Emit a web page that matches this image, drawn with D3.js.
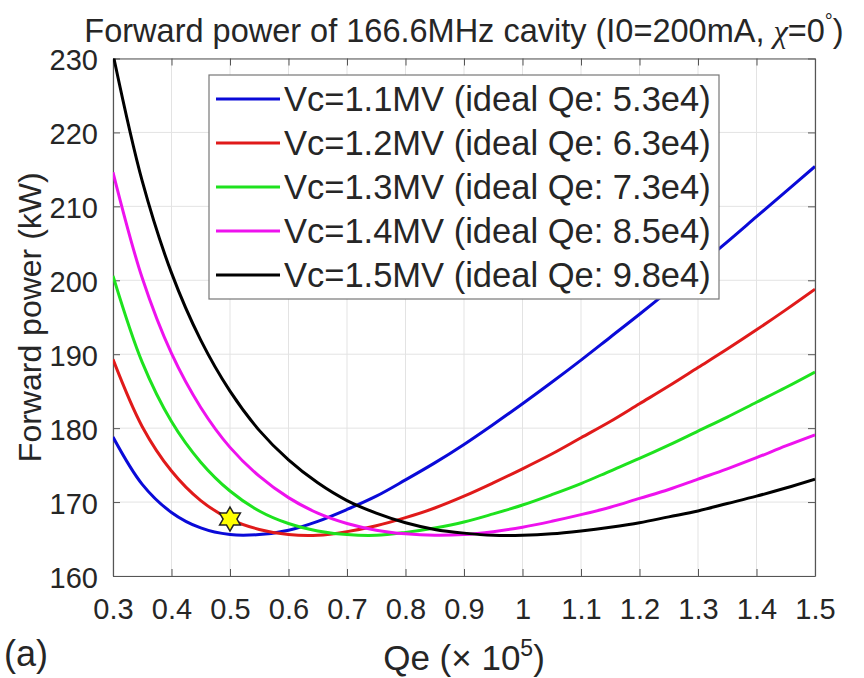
<!DOCTYPE html>
<html>
<head>
<meta charset="utf-8">
<script src="https://cdn.jsdelivr.net/npm/d3@7"></script>
<style>
  body { margin: 0; background: #fff; }
  svg text { font-family: "Liberation Sans", Arial, sans-serif; fill: #262626; }
</style>
</head>
<body>
<div id="vis"></div>
<script>
var qe = [0.30, 0.35, 0.40, 0.45, 0.50, 0.55, 0.60, 0.65, 0.70, 0.75, 0.80, 0.85, 0.90,
          0.95, 1.00, 1.05, 1.10, 1.15, 1.20, 1.25, 1.30, 1.35, 1.40, 1.45, 1.50];

// forward power (kW) for each cavity voltage
var p11 = [178.8, 172.4, 168.6, 166.5, 165.6, 165.6, 166.2, 167.4, 169.0, 170.8, 173.0, 175.3, 177.8,
           180.5, 183.3, 186.2, 189.2, 192.3, 195.4, 198.6, 201.9, 205.2, 208.6, 212.0, 215.4];
var p12 = [189.3, 180.2, 174.2, 170.2, 167.7, 166.3, 165.6, 165.5, 166.0, 166.8, 167.9, 169.2, 170.8,
           172.6, 174.5, 176.5, 178.7, 180.9, 183.3, 185.7, 188.2, 190.7, 193.3, 196.0, 198.8];
var p13 = [200.6, 188.9, 180.9, 175.4, 171.5, 168.8, 167.1, 166.1, 165.6, 165.5, 165.9, 166.5, 167.3,
           168.4, 169.6, 171.0, 172.5, 174.2, 175.9, 177.7, 179.6, 181.5, 183.5, 185.5, 187.6];
var p14 = [214.6, 200.3, 190.1, 182.8, 177.4, 173.5, 170.6, 168.5, 167.1, 166.2, 165.7, 165.5, 165.6,
           166.0, 166.6, 167.4, 168.3, 169.3, 170.5, 171.7, 173.1, 174.5, 176.0, 177.6, 179.1];
var p15 = [230.6, 213.4, 201.0, 191.9, 185.0, 179.7, 175.7, 172.6, 170.2, 168.5, 167.2, 166.3, 165.8,
           165.5, 165.5, 165.7, 166.1, 166.6, 167.2, 168.0, 168.8, 169.8, 170.8, 171.9, 173.1];

var seriesNames = ["Vc=1.1MV (ideal Qe: 5.3e4)", "Vc=1.2MV (ideal Qe: 6.3e4)", "Vc=1.3MV (ideal Qe: 7.3e4)",
                   "Vc=1.4MV (ideal Qe: 8.5e4)", "Vc=1.5MV (ideal Qe: 9.8e4)"];
var seriesColors = ["#0a0ad8", "#e01a1a", "#1ee21e", "#ee12ee", "#000000"];
var seriesValues = [p11, p12, p13, p14, p15];

// the yellow star marker
var starPoint = {x: 0.5, y: 167.7};

var xTicks = [0.3, 0.4, 0.5, 0.6, 0.7, 0.8, 0.9, 1, 1.1, 1.2, 1.3, 1.4, 1.5];
var yTicks = [160, 170, 180, 190, 200, 210, 220, 230];

var W = 864, H = 678;
var margin = {top: 58.5, right: 49, bottom: 102, left: 113};
var width = W - margin.left - margin.right,
    height = H - margin.top - margin.bottom;
var cx = margin.left + width / 2; // centre of the plot box

var svg = d3.select("#vis").append("svg")
  .attr("width", W)
  .attr("height", H);

var g = svg.append("g")
  .attr("transform", "translate(" + margin.left + "," + margin.top + ")");

var x = d3.scaleLinear().domain([0.3, 1.5]).range([0, width]);
var y = d3.scaleLinear().domain([160, 230]).range([height, 0]);

// grid
g.append("g").selectAll("line").data(xTicks).join("line")
  .attr("x1", d => x(d)).attr("x2", d => x(d))
  .attr("y1", 0).attr("y2", height)
  .style("stroke", "#e3e3e3").style("stroke-width", 1);
g.append("g").selectAll("line").data(yTicks).join("line")
  .attr("x1", 0).attr("x2", width)
  .attr("y1", d => y(d)).attr("y2", d => y(d))
  .style("stroke", "#e3e3e3").style("stroke-width", 1);

// axes, ticks inside like matlab
var fmt = d3.format("");
var xAxis = g.append("g")
  .attr("transform", "translate(0," + height + ")")
  .call(d3.axisBottom(x).tickValues(xTicks).tickSizeInner(-7).tickSizeOuter(0).tickPadding(22).tickFormat(fmt));
var xTop = g.append("g")
  .call(d3.axisTop(x).tickValues(xTicks).tickSizeInner(-7).tickSizeOuter(0).tickFormat(""));
var yAxis = g.append("g")
  .call(d3.axisLeft(y).tickValues(yTicks).tickSizeInner(-7).tickSizeOuter(0).tickPadding(15));
var yRight = g.append("g")
  .attr("transform", "translate(" + width + ",0)")
  .call(d3.axisRight(y).tickValues(yTicks).tickSizeInner(-7).tickSizeOuter(0).tickFormat(""));

[xAxis, xTop, yAxis, yRight].forEach(function(a) {
  a.select(".domain").style("stroke", "#555").style("stroke-width", 1.2);
  a.selectAll(".tick line").style("stroke", "#555");
  a.selectAll("text").style("font-size", "29px").style("fill", "#262626")
    .style("font-family", "'Liberation Sans', Arial, sans-serif");
});
yAxis.selectAll("text").attr("dy", "0.38em");

// curves
svg.append("clipPath").attr("id", "clip")
  .append("rect").attr("width", width).attr("height", height);

var line = d3.line()
  .x(function(d, i) { return x(qe[i]); })
  .y(function(d) { return y(d); })
  .curve(d3.curveCatmullRom);

var plot = g.append("g").attr("clip-path", "url(#clip)");
seriesValues.forEach(function(vals, k) {
  plot.append("path")
    .datum(vals)
    .attr("d", line)
    .style("fill", "none")
    .style("stroke", seriesColors[k])
    .style("stroke-width", 3);
});

// hexagram marker (matlab 'h')
function hexagram(r) {
  var pts = [];
  for (var i = 0; i < 12; i++) {
    var a = -Math.PI / 2 + i * Math.PI / 6;
    var rr = (i % 2 === 0) ? r : r * 0.577;
    pts.push([rr * Math.cos(a), rr * Math.sin(a)]);
  }
  return "M" + pts.join("L") + "Z";
}
g.append("path")
  .attr("d", hexagram(12))
  .attr("transform", "translate(" + x(starPoint.x) + "," + y(starPoint.y) + ")")
  .style("fill", "#ffff00")
  .style("stroke", "#222")
  .style("stroke-width", 1.5);

// legend
var legend = g.append("g").attr("transform", "translate(" + (209 - margin.left) + "," + (75 - margin.top) + ")");
legend.append("rect")
  .attr("width", 510).attr("height", 224)
  .style("fill", "#fff").style("stroke", "#777").style("stroke-width", 1.2);
seriesNames.forEach(function(name, k) {
  var row = legend.append("g").attr("transform", "translate(0," + (24 + k * 44) + ")");
  row.append("line").attr("x1", 7).attr("x2", 71)
    .style("stroke", seriesColors[k]).style("stroke-width", 3);
  row.append("text").attr("x", 75).attr("dy", "0.36em")
    .style("font-size", "34.5px").text(name);
});

// titles
svg.append("text")
  .attr("x", cx).attr("y", 42)
  .attr("text-anchor", "middle")
  .style("font-size", "32.5px")
  .html("Forward power of 166.6MHz cavity (I0=200mA, <tspan font-family='Liberation Serif' font-style='italic'>χ</tspan>=0<tspan dy='-14' font-size='20px'>°</tspan><tspan dy='14'>)</tspan>");

svg.append("text")
  .attr("transform", "translate(41," + (margin.top + height / 2) + ") rotate(-90)")
  .attr("text-anchor", "middle")
  .style("font-size", "32px")
  .text("Forward power (kW)");

svg.append("text")
  .attr("x", cx).attr("y", 670)
  .attr("text-anchor", "middle")
  .style("font-size", "35px")
  .html("Qe (× 10<tspan dy='-14' font-size='23px'>5</tspan><tspan dy='14'>)</tspan>");

svg.append("text")
  .attr("x", 4).attr("y", 666)
  .style("font-size", "36px")
  .text("(a)");
</script>
</body>
</html>
